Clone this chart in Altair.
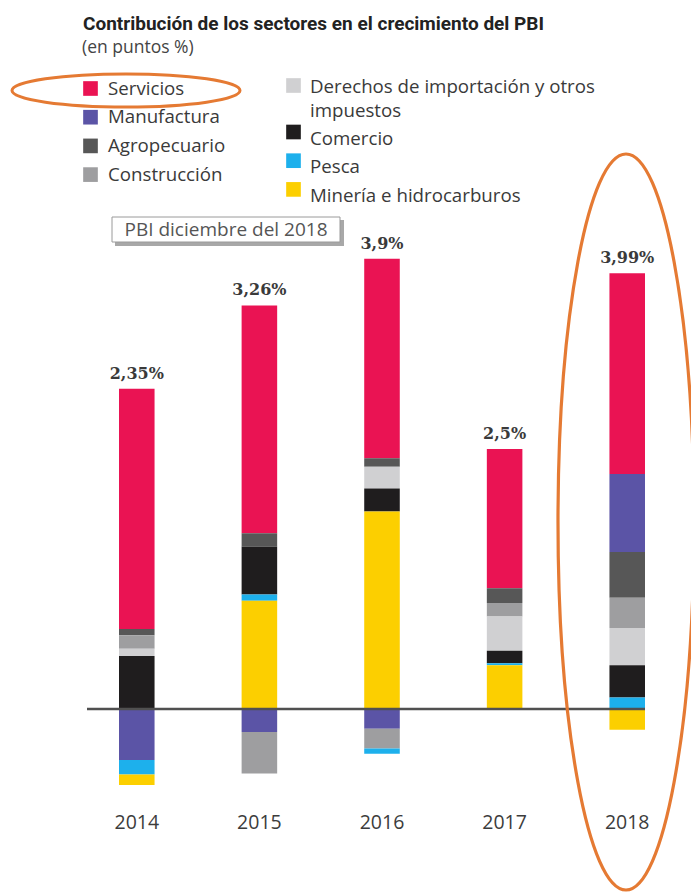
import altair as alt
import pandas as pd

# ---------------- data ----------------
years = ["2014", "2015", "2016", "2017", "2018"]
totals = ["2,35%", "3,26%", "3,9%", "2,5%", "3,99%"]

sectors = ["Servicios", "Manufactura", "Agropecuario", "Construcción",
           "Derechos de importación y otros impuestos", "Comercio", "Pesca",
           "Minería e hidrocarburos"]
legend_labels = ["Servicios", "Manufactura", "Agropecuario", "Construcción",
                 "Derechos de importación y otros\nimpuestos", "Comercio", "Pesca",
                 "Minería e hidrocarburos"]
colors = ["#EA1353", "#5B54A6", "#575757", "#9E9EA0",
          "#D0D0D2", "#1F1D1E", "#1DB0EC", "#FCCF00"]

servicios = [2.31, 2.19, 1.92, 1.34, 1.93]
manufactura = [-0.49, -0.22, -0.19, 0.0, 0.75]
agropecuario = [0.06, 0.13, 0.08, 0.14, 0.44]
construccion = [0.13, -0.40, -0.19, 0.13, 0.29]
derechos = [0.07, 0.0, 0.21, 0.33, 0.36]
comercio = [0.51, 0.46, 0.22, 0.12, 0.31]
pesca = [-0.14, 0.06, -0.05, 0.02, 0.11]
mineria = [-0.10, 1.04, 1.90, 0.42, -0.20]

title_text = "Contribución de los sectores en el crecimiento del PBI"
subtitle_text = "(en puntos %)"
note_text = "PBI diciembre del 2018"

# stacking order (first = next to the zero line)
pos_order = ["Minería e hidrocarburos", "Pesca", "Comercio",
             "Derechos de importación y otros impuestos", "Construcción",
             "Agropecuario", "Manufactura", "Servicios"]
neg_order = ["Manufactura", "Construcción", "Pesca", "Minería e hidrocarburos",
             "Servicios", "Agropecuario", "Derechos de importación y otros impuestos",
             "Comercio"]

series = [servicios, manufactura, agropecuario, construccion,
          derechos, comercio, pesca, mineria]

rows = []
for name, vals in zip(sectors, series):
    for yr, v in zip(years, vals):
        if v == 0:
            continue
        ordv = pos_order.index(name) if v > 0 else neg_order.index(name)
        rows.append({"year": yr, "sector": name, "value": v, "ord": ordv})
bars_df = pd.DataFrame(rows)

tops = []
for i, yr in enumerate(years):
    tops.append(sum(s[i] for s in series if s[i] > 0))
totals_df = pd.DataFrame({"year": years, "top": tops, "label": totals})
years_df = pd.DataFrame({"year": years})

# legend table
leg_rows = []
for i, (name, lab) in enumerate(zip(sectors, legend_labels)):
    col = 0 if i < 4 else 1
    r = i if col == 0 else i - 4
    if col == 0:
        cy = 88 + 28.7 * r
        sy = cy + 0.5
        tx, sx = 108, 90.5
    else:
        cy = 86 if r == 0 else 138 + 28.7 * (r - 1)
        sy = cy - 0.5 if r == 0 else cy - 6
        tx, sx = 310, 293.5
    leg_rows.append({"sector": name, "label": lab, "tx": tx, "ty": cy + 6.5,
                     "sx": sx, "sy": sy})
leg_df = pd.DataFrame(leg_rows)

# ---------------- scales ----------------
xscale = alt.Scale(type="band", domain=years, range=[119, 645],
                   paddingInner=0.71, paddingOuter=0)
yscale = alt.Scale(domain=[0, 4], range=[709, 293], nice=False, zero=False)
cscale = alt.Scale(domain=sectors, range=colors)

FONT = "Open Sans"

bars = alt.Chart(bars_df).mark_bar().encode(
    x=alt.X("year:N", scale=xscale, axis=None),
    y=alt.Y("value:Q", stack="zero", scale=yscale, axis=None),
    color=alt.Color("sector:N", scale=cscale, legend=None),
    order=alt.Order("ord:Q", sort="ascending"),
)

zero_line = alt.Chart(pd.DataFrame({"v": [0]})).mark_rule(
    color="#505050", strokeWidth=2.5
).encode(
    y=alt.Y("v:Q", scale=yscale, axis=None),
    x=alt.value(87), x2=alt.value(645),
)

total_text = alt.Chart(totals_df).mark_text(
    font="DejaVu Serif", fontWeight="bold", fontSize=16, color="#3a3a3a",
    baseline="alphabetic", dy=-10
).encode(
    x=alt.X("year:N", scale=xscale, axis=None, bandPosition=0.5),
    y=alt.Y("top:Q", scale=yscale, axis=None),
    text="label:N",
)

year_text = alt.Chart(years_df).mark_text(
    font=FONT, fontSize=19.5, color="#3c3c3c", baseline="middle"
).encode(
    x=alt.X("year:N", scale=xscale, axis=None, bandPosition=0.5),
    y=alt.value(823),
    text="year:N",
)

title = alt.Chart(pd.DataFrame({"t": [title_text]})).mark_text(
    font="Roboto", fontWeight="bold", fontSize=19,
    color="#222222", align="left", baseline="alphabetic"
).encode(x=alt.value(83), y=alt.value(30), text="t:N")

subtitle = alt.Chart(pd.DataFrame({"t": [subtitle_text]})).mark_text(
    font=FONT, fontSize=17.5, color="#444444", align="left", baseline="alphabetic"
).encode(x=alt.value(82), y=alt.value(53), text="t:N")

leg_sq = alt.Chart(leg_df).mark_square(size=215, opacity=1, filled=True).encode(
    x=alt.X("sx:Q", scale=None, axis=None),
    y=alt.Y("sy:Q", scale=None, axis=None),
    color=alt.Color("sector:N", scale=cscale, legend=None),
)

leg_txt = alt.Chart(leg_df).mark_text(
    font=FONT, fontSize=18.7, color="#3a3a3a", align="left",
    baseline="alphabetic", lineBreak="\n", lineHeight=24
).encode(
    x=alt.X("tx:Q", scale=None, axis=None),
    y=alt.Y("ty:Q", scale=None, axis=None),
    text="label:N",
)

one = pd.DataFrame({"a": [0]})
shadow = alt.Chart(one).mark_rect(fill="#a8a8a8").encode(
    x=alt.value(115), x2=alt.value(344), y=alt.value(220), y2=alt.value(246)
)
box = alt.Chart(one).mark_rect(fill="white", stroke="#9a9a9a", strokeWidth=1).encode(
    x=alt.value(112), x2=alt.value(340), y=alt.value(217), y2=alt.value(242)
)
note = alt.Chart(pd.DataFrame({"t": [note_text]})).mark_text(
    font=FONT, fontSize=19, color="#555555", align="center", baseline="middle"
).encode(x=alt.value(226), y=alt.value(230), text="t:N")


def ellipse_path(b):
    k = 0.5523
    return (f"M -1 0 C -1 {-k*b:.4f} {-k} {-b:.4f} 0 {-b:.4f} "
            f"C {k} {-b:.4f} 1 {-k*b:.4f} 1 0 "
            f"C 1 {k*b:.4f} {k} {b:.4f} 0 {b:.4f} "
            f"C {-k} {b:.4f} -1 {k*b:.4f} -1 0 Z")


ORANGE = "#E57A33"
ell1 = alt.Chart(one).mark_point(
    shape=ellipse_path(16.5 / 114), size=(2 * 114) ** 2, filled=False,
    stroke=ORANGE, strokeWidth=3, opacity=1
).encode(x=alt.value(126), y=alt.value(90.5))

ell2 = alt.Chart(one).mark_point(
    shape=ellipse_path(368 / 68), size=(2 * 68) ** 2, filled=False,
    stroke=ORANGE, strokeWidth=3.2, opacity=1
).encode(x=alt.value(626), y=alt.value(522))

chart = alt.layer(
    bars, zero_line, total_text, year_text, title, subtitle,
    leg_sq, leg_txt, shadow, box, note, ell1, ell2
).resolve_scale(
    x="independent", y="independent"
).properties(
    width=691, height=893, padding=0, autosize="none", background="white"
).configure_view(stroke=None)

chart.save("out.html", embed_options={"renderer": "svg", "actions": False})
